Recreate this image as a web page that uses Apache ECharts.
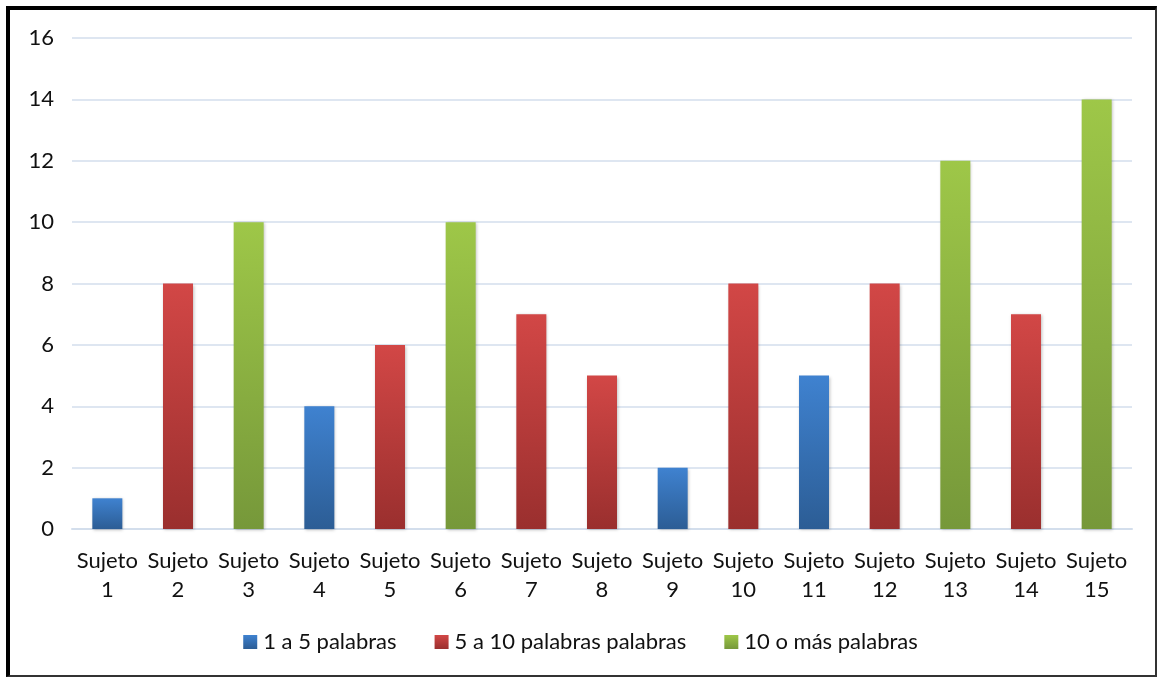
<!DOCTYPE html>
<html><head><meta charset="utf-8">
<script src="https://cdn.jsdelivr.net/npm/echarts@6/dist/echarts.min.js"></script>
<style>
html,body{margin:0;padding:0;background:#fff;}
#frame{position:absolute;left:6px;top:6px;width:1151px;height:671px;box-sizing:border-box;border-left:4px solid #000;border-top:4px solid #000;border-right:2px solid #333;border-bottom:2px solid #333;}
#c{position:absolute;left:0;top:0;width:1161px;height:679px;}
</style></head>
<body>
<div id="c"></div>
<div id="frame"></div>
<script>
const categories = ['Sujeto\n1','Sujeto\n2','Sujeto\n3','Sujeto\n4','Sujeto\n5','Sujeto\n6','Sujeto\n7','Sujeto\n8','Sujeto\n9','Sujeto\n10','Sujeto\n11','Sujeto\n12','Sujeto\n13','Sujeto\n14','Sujeto\n15'];
const seriesNames = ['1 a 5 palabras','5 a 10 palabras palabras','10 o más palabras'];
const shortWords = [1,'-','-',4,'-','-','-','-',2,'-',5,'-','-','-','-'];
const midWords   = ['-',8,'-','-',6,'-',7,5,'-',8,'-',8,'-',7,'-'];
const longWords  = ['-','-',10,'-','-',10,'-','-','-','-','-','-',12,'-',14];
const yTicks = {min:0,max:16,interval:2};

const grad = (t,b)=>new echarts.graphic.LinearGradient(0,0,0,1,[{offset:0,color:t},{offset:1,color:b}]);
const colors = [grad('#3f82d0','#2c5d95'), grad('#d24746','#9a2f2e'), grad('#9ec748','#76983a')];
const legendColors = ['#3a78c3','#c0403f','#8cb543'];
const font = 'Lato, "Open Sans", sans-serif';

const chart = echarts.init(document.getElementById('c'));
const mk = (i,data)=>({
  name: seriesNames[i], type:'bar', stack:'s', data, barWidth:30,
  itemStyle:{color:colors[i], shadowColor:'rgba(0,0,0,0.25)', shadowBlur:3, shadowOffsetX:1, shadowOffsetY:1},
});
chart.setOption({
  animation:false,
  color: legendColors,
  grid:{left:72,right:29,top:38,bottom:150},
  legend:{
    top:626, left:'center', itemWidth:14, itemHeight:14, itemGap:38, icon:'rect',
    textStyle:{fontFamily:font,fontSize:22,color:'#111',padding:[0,0,0,1]},
    data: seriesNames.map((n,i)=>({name:n, itemStyle:{color:colors[i]}}))
  },
  xAxis:{type:'category',data:categories,
    axisLine:{lineStyle:{color:'#d3deec',width:2}},axisTick:{show:false},
    axisLabel:{fontFamily:font,fontSize:22,color:'#111',lineHeight:29,margin:17,interval:0}},
  yAxis:{type:'value',min:yTicks.min,max:yTicks.max,interval:yTicks.interval,
    axisLine:{show:false},axisTick:{show:false},
    splitLine:{lineStyle:{color:'#d3deec',width:1.5}},
    axisLabel:{fontFamily:font,fontSize:22,color:'#111',margin:18}},
  series:[mk(0,shortWords),mk(1,midWords),mk(2,longWords)]
});
</script>
</body></html>
